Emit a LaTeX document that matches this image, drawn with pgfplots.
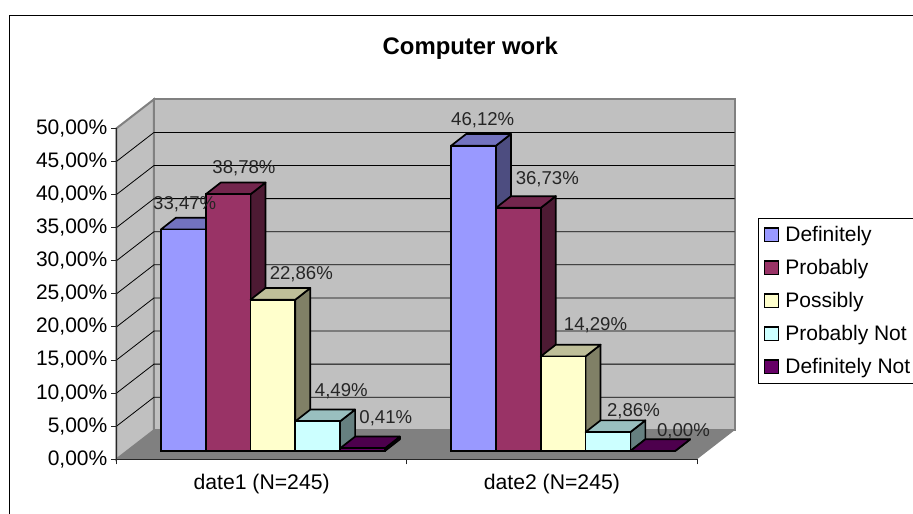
\documentclass[border=0pt]{standalone}
\usepackage{fontspec}
\setmainfont{Liberation Sans}
\usepackage{pgfplots}
\pgfplotsset{compat=1.18}
\definecolor{c1}{HTML}{9999FF}\definecolor{c1t}{HTML}{7373BF}\definecolor{c1s}{HTML}{4D4D80}
\definecolor{c2}{HTML}{993366}\definecolor{c2t}{HTML}{73264D}\definecolor{c2s}{HTML}{4D1A33}
\definecolor{c3}{HTML}{FFFFCC}\definecolor{c3t}{HTML}{BFBF99}\definecolor{c3s}{HTML}{808066}
\definecolor{c4}{HTML}{CCFFFF}\definecolor{c4t}{HTML}{99BFBF}\definecolor{c4s}{HTML}{668080}
\definecolor{c5}{HTML}{660066}\definecolor{c5t}{HTML}{4D004D}\definecolor{c5s}{HTML}{330033}
\definecolor{wall}{HTML}{C0C0C0}\definecolor{edge}{HTML}{808080}
\newcommand{\fs}[1]{\fontsize{#1}{#1}\selectfont}
\newcommand{\swatch}[1]{\draw[fill=#1,draw=black,line width=1.7pt] (0pt,-6.8pt) rectangle (14pt,6.8pt);\path (18pt,0pt);}
% top and side faces of one bar: category centre, offset in px, value, colours
\newcommand{\faces}[5]{%
  \pgfmathsetmacro\xL{#1+(#2-22.4)/290.25}%
  \pgfmathsetmacro\xR{#1+(#2+22.4)/290.25}%
  \pgfmathsetmacro\xLb{\xL+0.05168}%
  \pgfmathsetmacro\xRb{\xR+0.05168}%
  \pgfmathsetmacro\vb{#3+1.767}%
  \addplot[fill=#5,draw=black,line width=1.7pt,line join=round,forget plot] coordinates {(\xR,0)(\xRb,1.767)(\xRb,\vb)(\xR,#3)} --cycle;
  \addplot[fill=#4,draw=black,line width=1.7pt,line join=round,forget plot] coordinates {(\xL,#3)(\xLb,\vb)(\xRb,\vb)(\xR,#3)} --cycle;
}
\newcommand{\lab}[3]{\node[anchor=base,font=\fs{18.6},text=black!85] at ({(#1-116.5)*1pt},{(459.3-#2)*1pt}) {#3};}
\begin{document}
\begin{tikzpicture}
\path[use as bounding box] (-116.5pt,-54.7pt) rectangle (796.5pt,459.3pt);
\draw[black,line width=1pt] (-107.2pt,-80pt) rectangle (820pt,443.3pt);
\begin{axis}[
  at={(0pt,0pt)}, scale only axis, width=580.5pt, height=331pt,
  xmin=0, xmax=2, ymin=0, ymax=50, clip=false, axis on top,
  axis x line=bottom, axis y line=left,
  axis line style={-,black!85,line width=1pt},
  tick style={black!85,line width=1pt},
  tick align=outside, major tick length=5pt,
  ytick={0,5,...,50},
  yticklabels={{0,00\%},{5,00\%},{10,00\%},{15,00\%},{20,00\%},{25,00\%},{30,00\%},{35,00\%},{40,00\%},{45,00\%},{50,00\%}},
  yticklabel style={font=\fs{21},inner sep=0pt,xshift=-4pt},
  xtick={0,1,2}, xticklabels={,,},
  extra x ticks={0.5,1.5},
  extra x tick labels={date1 (N=245),date2 (N=245)},
  extra x tick style={major tick length=0pt,tick label style={font=\fs{21.2},yshift=-11pt}},
  title={\textbf{Computer work}},
  title style={font=\fs{23.9},at={(axis description cs:0.6095,1.204)},anchor=base,inner sep=0pt,yshift=0pt},
]
\addplot[fill=wall,draw=edge,line width=2pt,forget plot] coordinates {(0,0)(0.1292,4.38)(0.1292,54.38)(0,50)} --cycle;
\addplot[fill=wall,draw=edge,line width=2pt,forget plot] coordinates {(0.1292,4.38)(2.1292,4.38)(2.1292,54.38)(0.1292,54.38)} --cycle;
\addplot[fill=edge,draw=none,forget plot] coordinates {(0,0)(0.1292,4.38)(2.1292,4.38)(2,0)} --cycle;
\addplot[black,line width=0.8pt,forget plot] coordinates {(0,5)(0.1292,9.38)(2.1292,9.38)};
\addplot[black,line width=0.8pt,forget plot] coordinates {(0,10)(0.1292,14.38)(2.1292,14.38)};
\addplot[black,line width=0.8pt,forget plot] coordinates {(0,15)(0.1292,19.38)(2.1292,19.38)};
\addplot[black,line width=0.8pt,forget plot] coordinates {(0,20)(0.1292,24.38)(2.1292,24.38)};
\addplot[black,line width=0.8pt,forget plot] coordinates {(0,25)(0.1292,29.38)(2.1292,29.38)};
\addplot[black,line width=0.8pt,forget plot] coordinates {(0,30)(0.1292,34.38)(2.1292,34.38)};
\addplot[black,line width=0.8pt,forget plot] coordinates {(0,35)(0.1292,39.38)(2.1292,39.38)};
\addplot[black,line width=0.8pt,forget plot] coordinates {(0,40)(0.1292,44.38)(2.1292,44.38)};
\addplot[black,line width=0.8pt,forget plot] coordinates {(0,45)(0.1292,49.38)(2.1292,49.38)};
\end{axis}
\begin{axis}[
  at={(11.3pt,8.3pt)}, scale only axis, width=580.5pt, height=331pt,
  xmin=0, xmax=2, ymin=0, ymax=50, clip=false, hide axis,
  legend style={at={(axis description cs:1.0861,0.7039)},anchor=north west,draw=black,line width=0.8pt,
    fill=white,font=\fs{21},row sep=12.3pt,inner xsep=5pt,inner ysep=6pt,
    cells={anchor=west},/tikz/column 2/.style={column sep=8pt}},
  legend cell align=left,
]
\faces{0.5}{-89.6}{33.47}{c1t}{c1s}
\faces{1.5}{-89.6}{46.12}{c1t}{c1s}
\addplot[ybar,bar width=44.8pt,bar shift=-89.6pt,fill=c1,draw=black,line width=1.7pt,legend image code/.code={\swatch{c1}}] coordinates {(0.5,33.47)(1.5,46.12)};
\addlegendentry{Definitely}
\faces{0.5}{-44.8}{38.78}{c2t}{c2s}
\faces{1.5}{-44.8}{36.73}{c2t}{c2s}
\addplot[ybar,bar width=44.8pt,bar shift=-44.8pt,fill=c2,draw=black,line width=1.7pt,legend image code/.code={\swatch{c2}}] coordinates {(0.5,38.78)(1.5,36.73)};
\addlegendentry{Probably}
\faces{0.5}{0}{22.86}{c3t}{c3s}
\faces{1.5}{0}{14.29}{c3t}{c3s}
\addplot[ybar,bar width=44.8pt,bar shift=0pt,fill=c3,draw=black,line width=1.7pt,legend image code/.code={\swatch{c3}}] coordinates {(0.5,22.86)(1.5,14.29)};
\addlegendentry{Possibly}
\faces{0.5}{44.8}{4.49}{c4t}{c4s}
\faces{1.5}{44.8}{2.86}{c4t}{c4s}
\addplot[ybar,bar width=44.8pt,bar shift=44.8pt,fill=c4,draw=black,line width=1.7pt,legend image code/.code={\swatch{c4}}] coordinates {(0.5,4.49)(1.5,2.86)};
\addlegendentry{Probably Not}
\faces{0.5}{89.6}{0.41}{c5t}{c5s}
\faces{1.5}{89.6}{0.00}{c5t}{c5s}
\addplot[ybar,bar width=44.8pt,bar shift=89.6pt,fill=c5,draw=black,line width=1.7pt,legend image code/.code={\swatch{c5}}] coordinates {(0.5,0.41)(1.5,0.00)};
\addlegendentry{Definitely Not}
\end{axis}
\lab{184.7}{210}{33,47\%}
\lab{244}{173.3}{38,78\%}
\lab{301.3}{280}{22,86\%}
\lab{341.3}{396.7}{4,49\%}
\lab{385.8}{424}{0,41\%}
\lab{482.7}{126}{46,12\%}
\lab{547.3}{185}{36,73\%}
\lab{595.5}{331}{14,29\%}
\lab{633.5}{417}{2,86\%}
\lab{683.5}{437}{0,00\%}
\end{tikzpicture}
\end{document}
